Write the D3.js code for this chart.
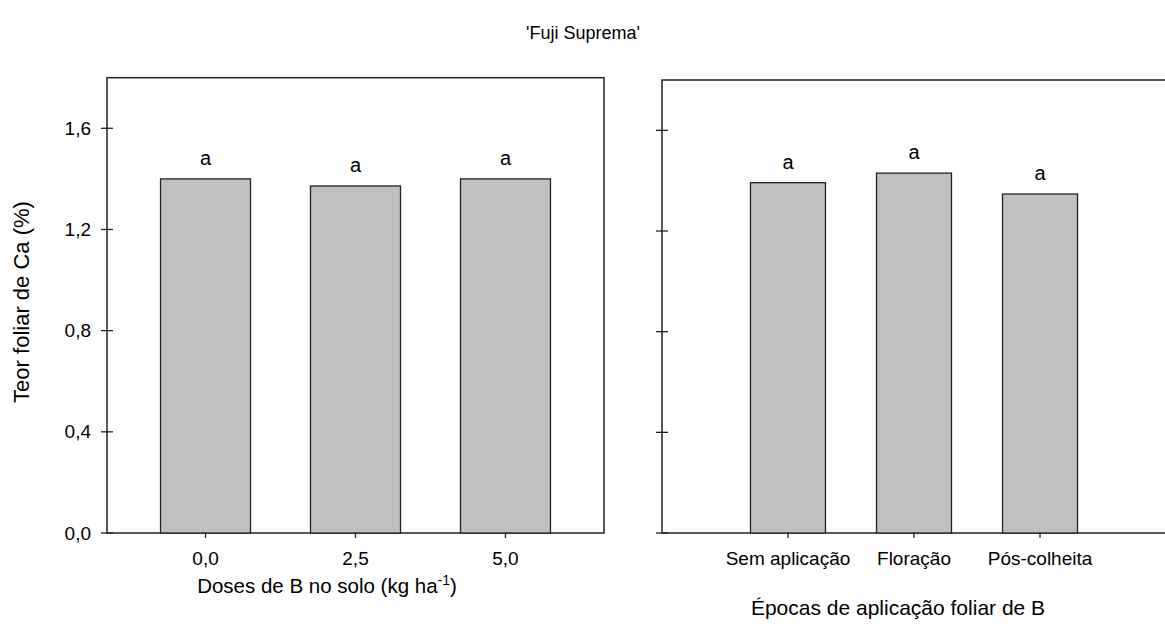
<!DOCTYPE html>
<html>
<head>
<meta charset="utf-8">
<script src="https://cdn.jsdelivr.net/npm/d3@7"></script>
<style>
  body { margin: 0; background: #fff; }
  svg { display: block; font-family: "Liberation Sans", Arial, sans-serif; }
</style>
</head>
<body>
<div id="chart"></div>
<script>
const title = "'Fuji Suprema'";
const yTitle = "Teor foliar de Ca (%)";
const yTicks = [0, 0.4, 0.8, 1.2, 1.6];

const doses = ["0,0", "2,5", "5,0"];
const dosesCa = [1.40, 1.372, 1.40];
const dosesLetters = ["a", "a", "a"];

const epocas = ["Sem aplicação", "Floração", "Pós-colheita"];
const epocasCa = [1.392, 1.43, 1.347];
const epocasLetters = ["a", "a", "a"];

const W = 1165, H = 642;
const fmt = d => d3.format(".1f")(d).replace(".", ",");

const svg = d3.select("#chart").append("svg")
    .attr("width", W)
    .attr("height", H);

svg.append("text")
  .attr("x", 583).attr("y", 39)
  .attr("text-anchor", "middle")
  .style("font-size", "18px")
  .text(title);

function drawPanel(cats, vals, letters, box, showLabels) {
  const x = d3.scaleBand()
      .domain(cats)
      .range([box.left, box.right])
      .paddingInner(box.pi)
      .paddingOuter(box.po);
  const y = d3.scaleLinear()
      .domain([0, 1.8])
      .range([box.bottom, box.top]);

  const g = svg.append("g");

  // frame (right panel runs off the page edge)
  g.append("rect")
    .attr("x", box.left).attr("y", box.top)
    .attr("width", box.frameRight - box.left)
    .attr("height", box.bottom - box.top)
    .style("fill", "none")
    .style("stroke", "#222")
    .style("stroke-width", 1.5);

  g.selectAll(".bar")
      .data(vals)
    .enter()
      .append("rect")
      .attr("class", "bar")
      .attr("x", (d, i) => x(cats[i]))
      .attr("y", d => y(d))
      .attr("width", x.bandwidth())
      .attr("height", d => y(0) - y(d))
      .style("fill", "#c0c0c0")
      .style("stroke", "#222")
      .style("stroke-width", 1.3);

  g.selectAll(".letter")
      .data(vals)
    .enter()
      .append("text")
      .attr("x", (d, i) => x(cats[i]) + x.bandwidth() / 2)
      .attr("y", d => y(d) - 14)
      .attr("text-anchor", "middle")
      .style("font-size", "20px")
      .text((d, i) => letters[i]);

  // y ticks cross the axis
  g.selectAll(".ytick")
      .data(yTicks)
    .enter()
      .append("line")
      .attr("x1", box.left - 6).attr("x2", box.left + 6)
      .attr("y1", d => y(d)).attr("y2", d => y(d))
      .style("stroke", "#222")
      .style("stroke-width", 1.3);

  if (showLabels) {
    g.selectAll(".ylab")
        .data(yTicks)
      .enter()
        .append("text")
        .attr("x", box.left - 16)
        .attr("y", d => y(d))
        .attr("dy", "0.35em")
        .attr("text-anchor", "end")
        .style("font-size", "19px")
        .text(fmt);
  }

  const xAxis = g.append("g")
    .attr("transform", "translate(0," + box.bottom + ")")
    .call(d3.axisBottom(x).tickSize(5).tickPadding(14));
  xAxis.select(".domain").remove();
  xAxis.selectAll("line").style("stroke", "#222").style("stroke-width", 1.3);
  xAxis.selectAll("text")
    .style("font-size", "19px")
    .style("font-family", "Liberation Sans, Arial, sans-serif")
    .style("fill", "#000");
  return g;
}

drawPanel(doses, dosesCa, dosesLetters,
  {left: 107, right: 604, frameRight: 604, top: 77.7, bottom: 533, pi: 0.4, po: 0.357}, true);

drawPanel(epocas, epocasCa, epocasLetters,
  {left: 662, right: 1166, frameRight: 1172, top: 80, bottom: 533, pi: 0.405, po: 0.702}, false);

svg.append("text")
  .attr("transform", "translate(29,302) rotate(-90)")
  .attr("text-anchor", "middle")
  .style("font-size", "22px")
  .text(yTitle);

const xt1 = svg.append("text")
  .attr("x", 327).attr("y", 593)
  .attr("text-anchor", "middle")
  .style("font-size", "20.5px");
xt1.append("tspan").text("Doses de B no solo (kg ha");
xt1.append("tspan").attr("dy", -8).style("font-size", "14px").text("-1");
xt1.append("tspan").attr("dy", 8).text(")");

svg.append("text")
  .attr("x", 898).attr("y", 615)
  .attr("text-anchor", "middle")
  .style("font-size", "21px")
  .text("Épocas de aplicação foliar de B");
</script>
</body>
</html>
